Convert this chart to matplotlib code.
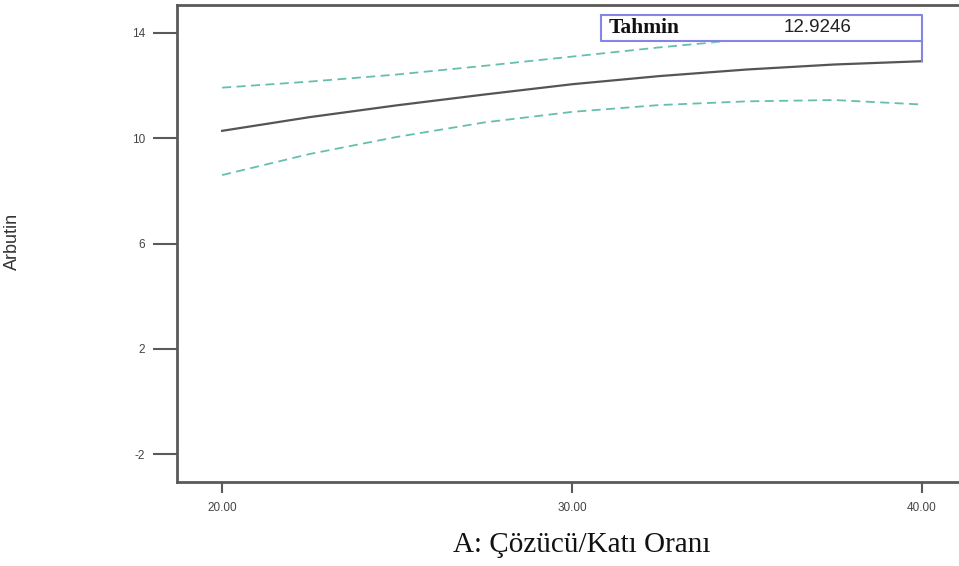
import matplotlib
matplotlib.use("Agg")
import matplotlib.pyplot as plt
import numpy as np

# Data
x_vals = [20, 22.5, 25, 27.5, 30, 32.5, 35, 37.5, 40]
predicted = [10.28, 10.80, 11.25, 11.66, 12.05, 12.36, 12.61, 12.80, 12.9246]
upper_ci = [11.92, 12.15, 12.42, 12.75, 13.10, 13.45, 13.76, 14.10, 14.50]
lower_ci = [8.60, 9.40, 10.05, 10.60, 11.00, 11.26, 11.40, 11.45, 11.28]
x_ticks = [20, 30, 40]
x_ticklabels = ["20.00", "30.00", "40.00"]
y_ticks = [-2, 2, 6, 10, 14]
y_ticklabels = ["-2", "2", "6", "10", "14"]
pred_label = "Tahmin"

W, H = 959, 566
fig = plt.figure(figsize=(W / 100, H / 100), dpi=100)
ax = fig.add_axes([177 / W, 1 - 482 / H, (W - 177) / W, 477 / H])

ax.set_xlim(18.71, 41.06)
ax.set_ylim(-3.06, 15.06)

spine_c = "#5a5a5a"
for s in ["left", "bottom", "top"]:
    ax.spines[s].set_color(spine_c)
    ax.spines[s].set_linewidth(2.0)
ax.spines["right"].set_visible(False)

ax.plot(x_vals, upper_ci, color="#66bfae", lw=1.3, ls=(0, (5, 3)), zorder=2)
ax.plot(x_vals, lower_ci, color="#66bfae", lw=1.3, ls=(0, (5, 3)), zorder=2)
ax.plot(x_vals, predicted, color="#555555", lw=1.6, zorder=3)

ax.set_xticks(x_ticks)
ax.set_xticklabels(x_ticklabels)
ax.set_yticks(y_ticks)
ax.set_yticklabels(y_ticklabels)
ax.tick_params(axis="x", direction="out", length=8, width=1.5, color=spine_c,
               pad=6.5, labelsize=8.5, labelcolor="#444444")
ax.tick_params(axis="y", direction="out", length=17, width=1.5, color=spine_c,
               pad=5.8, labelsize=8.5, labelcolor="#444444")
for lab in ax.get_xticklabels() + ax.get_yticklabels():
    lab.set_fontfamily("Liberation Sans")

ax.set_ylabel("Arbutin", fontsize=13, family="Liberation Sans", color="#333333")
ax.yaxis.set_label_coords(-0.200, 0.505)
ax.set_xlabel("A: Çözücü/Katı Oranı", fontsize=21, family="Liberation Serif",
              color="#111111", va="center")
ax.xaxis.set_label_coords(0.518, -(545 - 482) / 477)

# Prediction callout box
x_last = x_vals[-1]
y_last = predicted[-1]
box_left, box_top, box_bot = 30.83, 14.68, 13.70
box_c = "#8585e6"
ax.fill([box_left, x_last, x_last, box_left], [box_bot, box_bot, box_top, box_top],
        color="white", zorder=4, clip_on=False)
ax.plot([box_left, x_last, x_last, box_left, box_left],
        [box_top, box_top, box_bot, box_bot, box_top], color=box_c, lw=1.5,
        zorder=5, clip_on=False)
ax.plot([x_last, x_last], [box_bot, y_last], color=box_c, lw=1.5, zorder=5)
ax.text(31.05, (box_top + box_bot) / 2, pred_label, fontsize=15.5, fontweight="bold",
        family="Liberation Serif", va="center", ha="left", color="#111111", zorder=6)
ax.text(36.05, (box_top + box_bot) / 2, f"{y_last:.4f}", fontsize=13.5,
        family="Liberation Sans", va="center", ha="left", color="#222222", zorder=6)

fig.savefig("out.png", dpi=100)
